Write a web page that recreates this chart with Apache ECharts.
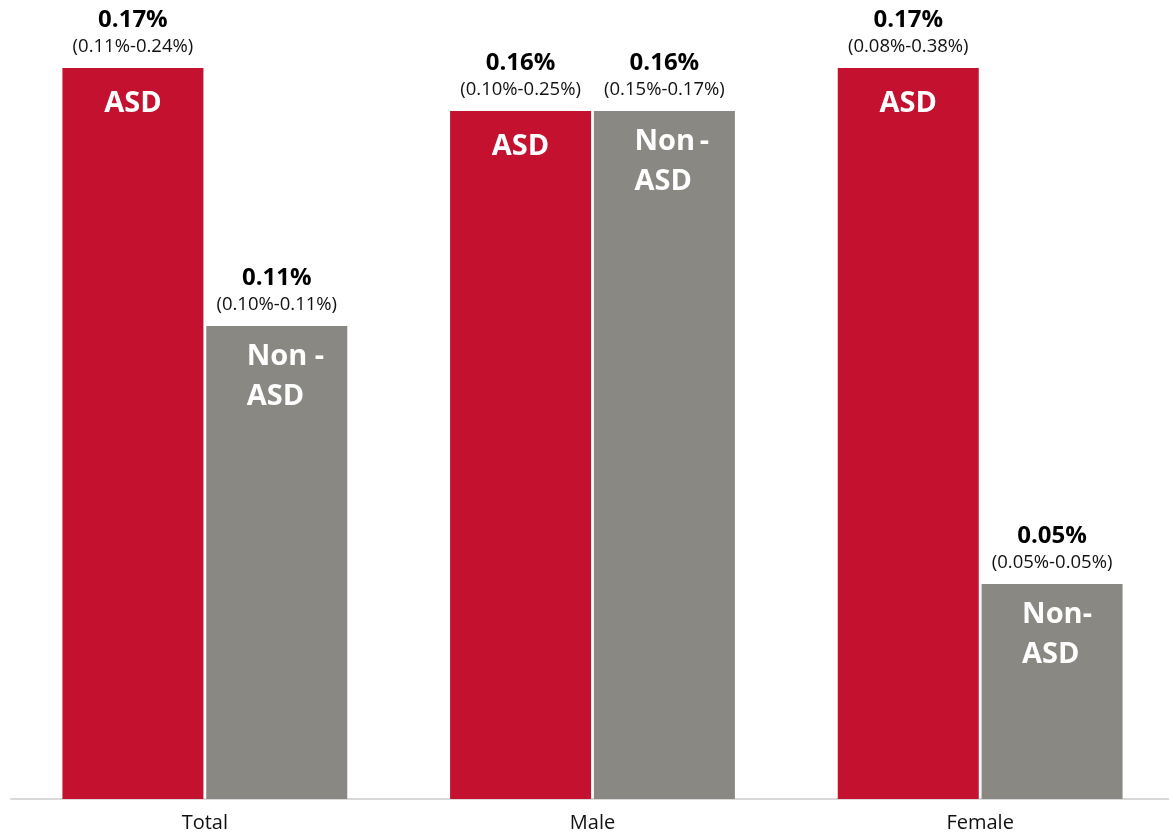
<!DOCTYPE html>
<html>
<head>
<meta charset="utf-8">
<script src="https://cdn.jsdelivr.net/npm/echarts@6/dist/echarts.min.js"></script>
<style>
html,body{margin:0;padding:0;background:#fff;overflow:hidden;width:1169px;height:834px;}
#chart{width:1180px;height:834px;}
</style>
</head>
<body>
<div id="chart"></div>
<script>
const categories = ['Total', 'Male', 'Female'];
const asdValues = [0.17, 0.16, 0.17];
const nonAsdValues = [0.11, 0.16, 0.05];
const asdCI = ['(0.11%-0.24%)', '(0.10%-0.25%)', '(0.08%-0.38%)'];
const nonAsdCI = ['(0.10%-0.11%)', '(0.15%-0.17%)', '(0.05%-0.05%)'];
const asdNames = ['ASD', 'ASD', 'ASD'];
const nonAsdNames = ['Non -\nASD', 'Non\u2009-\nASD', 'Non-\nASD'];

const FONT = '"Open Sans", "Noto Sans", sans-serif';
const RED = '#C3112F';
const GRAY = '#898882';

function topLabel(ciArr) {
  return {
    show: true,
    position: 'top',
    distance: 8,
    fontFamily: FONT,
    formatter: p => '{v|' + p.value.toFixed(2) + '%}\n{c|' + ciArr[p.dataIndex] + '}',
    rich: {
      v: { fontFamily: FONT, fontWeight: 'bold', fontSize: 24, lineHeight: 28, color: '#000' },
      c: { fontFamily: FONT, fontSize: 18.5, lineHeight: 26, color: '#111' }
    }
  };
}

const chart = echarts.init(document.getElementById('chart'), null, { renderer: 'canvas' });
chart.setOption({
  animation: false,
  grid: { left: 11, right: 6, top: 68, bottom: 35 },
  xAxis: [
    {
      type: 'category', data: categories,
      axisLine: { show: true, lineStyle: { color: '#d9d9d9', width: 2 } },
      axisTick: { show: false },
      axisLabel: { fontFamily: FONT, fontSize: 20, color: '#111', margin: 14 }
    },
    {
      type: 'category', data: categories, show: false
    }
  ],
  yAxis: { type: 'value', min: 0, max: 0.17, show: false, splitLine: { show: false } },
  series: [
    {
      name: 'ASD', type: 'bar', xAxisIndex: 0, data: asdValues,
      barWidth: 141, barGap: '2%',
      itemStyle: { color: RED },
      label: topLabel(asdCI)
    },
    {
      name: 'Non-ASD', type: 'bar', xAxisIndex: 0, data: nonAsdValues,
      barWidth: 141, barGap: '2%',
      itemStyle: { color: GRAY },
      label: topLabel(nonAsdCI)
    },
    {
      name: 'ASD-in', type: 'bar', xAxisIndex: 1, data: asdValues,
      barWidth: 141, barGap: '2%', silent: true,
      itemStyle: { color: 'rgba(0,0,0,0)' },
      label: {
        show: true, position: 'insideTop', distance: 16,
        formatter: p => asdNames[p.dataIndex],
        fontFamily: FONT, fontWeight: 'bold', fontSize: 29, lineHeight: 40, color: '#fff'
      }
    },
    {
      name: 'Non-ASD-in', type: 'bar', xAxisIndex: 1, data: nonAsdValues,
      barWidth: 141, barGap: '2%', silent: true,
      itemStyle: { color: 'rgba(0,0,0,0)' },
      label: {
        show: true, position: 'insideTop', distance: 11,
        formatter: p => nonAsdNames[p.dataIndex], align: 'left', offset: [-30, 0],
        fontFamily: FONT, fontWeight: 'bold', fontSize: 29, lineHeight: 40, color: '#fff'
      }
    }
  ]
});
</script>
</body>
</html>
